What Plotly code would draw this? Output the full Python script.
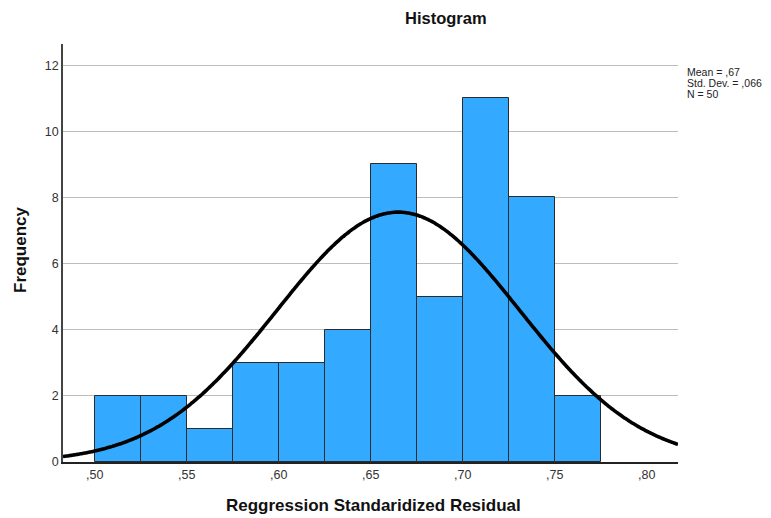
import numpy as np
import plotly.graph_objects as go

# ---- data ----
bin_starts = [0.500, 0.525, 0.550, 0.575, 0.600, 0.625, 0.650, 0.675, 0.700, 0.725, 0.750]
counts = [2, 2, 1, 3, 3, 4, 9, 5, 11, 8, 2]
bin_width = 0.025
mean_val = 0.665
sd_val = 0.066
n_val = 50
x_tickvals = [0.50, 0.55, 0.60, 0.65, 0.70, 0.75, 0.80]
x_ticktext = [",50", ",55", ",60", ",65", ",70", ",75", ",80"]
y_tickvals = [0, 2, 4, 6, 8, 10, 12]
stats_lines = ["Mean = ,67", "Std. Dev. = ,066", "N = 50"]
title_text = "Histogram"
x_title = "Reggression Standaridized Residual"
y_title = "Frequency"

x_range = [0.4828, 0.817]
y_range = [0, 12.64]

centers = [s + bin_width / 2 for s in bin_starts]

# normal curve defined by the stated mean / sd / N
xc = np.linspace(x_range[0], x_range[1], 300)
yc = n_val * bin_width / (sd_val * np.sqrt(2 * np.pi)) * np.exp(-0.5 * ((xc - mean_val) / sd_val) ** 2)

FONT = "Liberation Sans, Arial, sans-serif"

# page has an 8px body margin; compensate
W, H = 763, 510
ML, MR, MT, MB = 55, 93, 36, 56
OFF = 8
pw = W - ML - MR
ph = H - MT - MB


def px_to_paper(px, py):
    return (px - OFF - ML) / pw, (H - MB - (py - OFF)) / ph


fig = go.Figure()
fig.add_trace(go.Bar(
    x=centers, y=counts, width=[bin_width] * len(centers),
    marker=dict(color="#33AAFF", line=dict(color="#2b2b2b", width=1)),
    hoverinfo="x+y", showlegend=False,
))
fig.add_trace(go.Scatter(
    x=xc, y=yc, mode="lines",
    line=dict(color="black", width=3.6, shape="spline"),
    showlegend=False, hoverinfo="skip",
))

fig.update_layout(
    width=W, height=H,
    margin=dict(l=ML, r=MR, t=MT, b=MB, pad=0, autoexpand=False),
    paper_bgcolor="white", plot_bgcolor="white",
    bargap=0,
    font=dict(family=FONT, color="#222222"),
    xaxis=dict(
        range=x_range, tickvals=x_tickvals, ticktext=x_ticktext,
        showgrid=False, zeroline=False, automargin=False,
        showline=True, linecolor="#222222", linewidth=1.5,
        ticks="", tickfont=dict(size=12.5, color="#333333"),
    ),
    yaxis=dict(
        range=y_range, tickvals=y_tickvals,
        showgrid=True, gridcolor="#bdbdbd", gridwidth=1,
        zeroline=False, automargin=False,
        showline=True, linecolor="#444444", linewidth=1.5,
        ticks="", tickfont=dict(size=12.5, color="#333333"),
    ),
)

tx, ty = px_to_paper(446, 18)
fig.add_annotation(text="<b>" + title_text + "</b>", x=tx, y=ty, xref="paper", yref="paper",
                   xanchor="center", yanchor="middle", showarrow=False,
                   font=dict(size=16.5, color="#111111"))

ax, ay = px_to_paper(373, 505)
fig.add_annotation(text="<b>" + x_title + "</b>", x=ax, y=ay, xref="paper", yref="paper",
                   xanchor="center", yanchor="middle", showarrow=False,
                   font=dict(size=17, color="#111111"))

bx, by = px_to_paper(20, 250)
fig.add_annotation(text="<b>" + y_title + "</b>", x=bx, y=by, xref="paper", yref="paper",
                   xanchor="center", yanchor="middle", showarrow=False, textangle=-90,
                   font=dict(size=17, color="#111111"))

for i, line in enumerate(stats_lines):
    sx, sy = px_to_paper(685, 72 + 11 * i)
    fig.add_annotation(
        text=line, xref="paper", yref="paper", x=sx, y=sy,
        xanchor="left", yanchor="middle", align="left", showarrow=False,
        font=dict(size=10.5, color="#222222"),
    )

fig.write_html("out.html")
